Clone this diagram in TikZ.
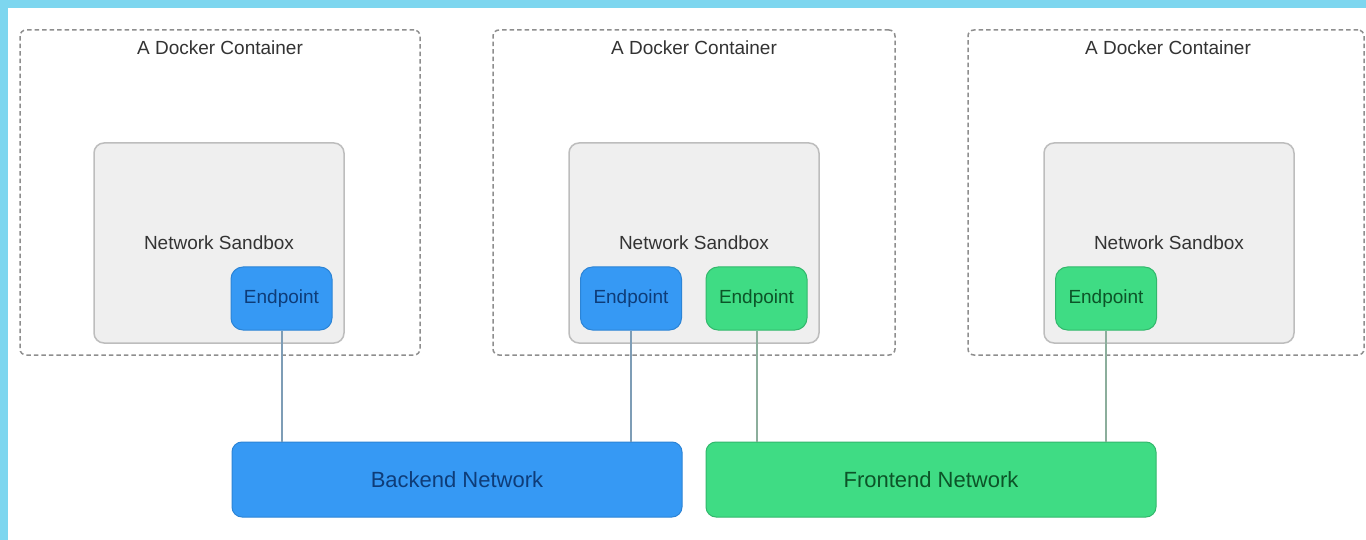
\documentclass[tikz,border=0pt]{standalone}
\usepackage{fontspec}
\setmainfont{Liberation Sans}
\definecolor{skyb}{HTML}{7DD6EF}
\definecolor{dashg}{HTML}{8E8E8E}
\definecolor{sbfill}{HTML}{EFEFEF}
\definecolor{sbdraw}{HTML}{BDBDBD}
\definecolor{bfill}{HTML}{3699F4}
\definecolor{bdraw}{HTML}{2C84D6}
\definecolor{btext}{HTML}{0E3C78}
\definecolor{gfill}{HTML}{3FDC84}
\definecolor{gdraw}{HTML}{32B86C}
\definecolor{gtext}{HTML}{0C5428}
\definecolor{bline}{HTML}{7E9DB6}
\definecolor{gline}{HTML}{8CAE9C}
\begin{document}
\begin{tikzpicture}[x=1pt,y=-1pt,
  container/.style={draw=dashg, line width=1.5pt, dash pattern=on 4.5pt off 3pt,
    rounded corners=6pt, minimum width=#1, minimum height=325pt, inner sep=0pt},
  ctitle/.style={font=\fontsize{19}{22}\selectfont, text=black!80},
  sandbox/.style={draw=sbdraw, fill=sbfill, line width=1.5pt, rounded corners=10pt,
    minimum width=250pt, minimum height=200pt, inner sep=0pt,
    font=\fontsize{19}{22}\selectfont, text=black!80},
  bep/.style={draw=bdraw, fill=bfill, line width=1pt, rounded corners=12pt,
    minimum width=101pt, minimum height=63pt, inner sep=0pt,
    font=\fontsize{19}{22}\selectfont, text=btext},
  gep/.style={bep, draw=gdraw, fill=gfill, text=gtext},
  bnet/.style={draw=bdraw, fill=bfill, line width=1pt, rounded corners=10pt,
    minimum width=450pt, minimum height=75pt, inner sep=0pt,
    font=\fontsize{22}{26}\selectfont, text=btext},
  gnet/.style={bnet, draw=gdraw, fill=gfill, text=gtext},
  blink/.style={draw=bline, line width=2pt},
  glink/.style={draw=gline, line width=2pt}
]
\useasboundingbox (0,0) rectangle (1366,540);
\fill[white] (0,0) rectangle (1366,540);
\fill[skyb] (0,0) rectangle (1366,8);
\fill[skyb] (0,0) rectangle (8,540);

% containers
\node[container=400pt] (c1) at (220,192.5) {};
\node[container=402pt] (c2) at (694,192.5) {};
\node[container=396pt] (c3) at (1166,192.5) {};
\node[ctitle] (t1) at (220,48) {A Docker Container};
\node[ctitle] (t2) at (694,48) {A Docker Container};
\node[ctitle] (t3) at (1168,48) {A Docker Container};

% sandboxes
\node[sandbox] (s1) at (219,243) {Network Sandbox};
\node[sandbox] (s2) at (694,243) {Network Sandbox};
\node[sandbox] (s3) at (1169,243) {Network Sandbox};

% endpoints
\node[bep] (e1) at (281.5,298.5) {Endpoint};
\node[bep] (e2) at (631,298.5) {Endpoint};
\node[gep] (e3) at (756.5,298.5) {Endpoint};
\node[gep] (e4) at (1106,298.5) {Endpoint};

% networks
\node[bnet] (bn) at (457,479.5) {Backend Network};
\node[gnet] (fn) at (931,479.5) {Frontend Network};

% links
\draw[blink] (e1.south) -- (e1.south |- bn.north);
\draw[blink] (e2.south) -- (e2.south |- bn.north);
\draw[glink] (e3.south) -- (e3.south |- fn.north);
\draw[glink] (e4.south) -- (e4.south |- fn.north);
\end{tikzpicture}
\end{document}
